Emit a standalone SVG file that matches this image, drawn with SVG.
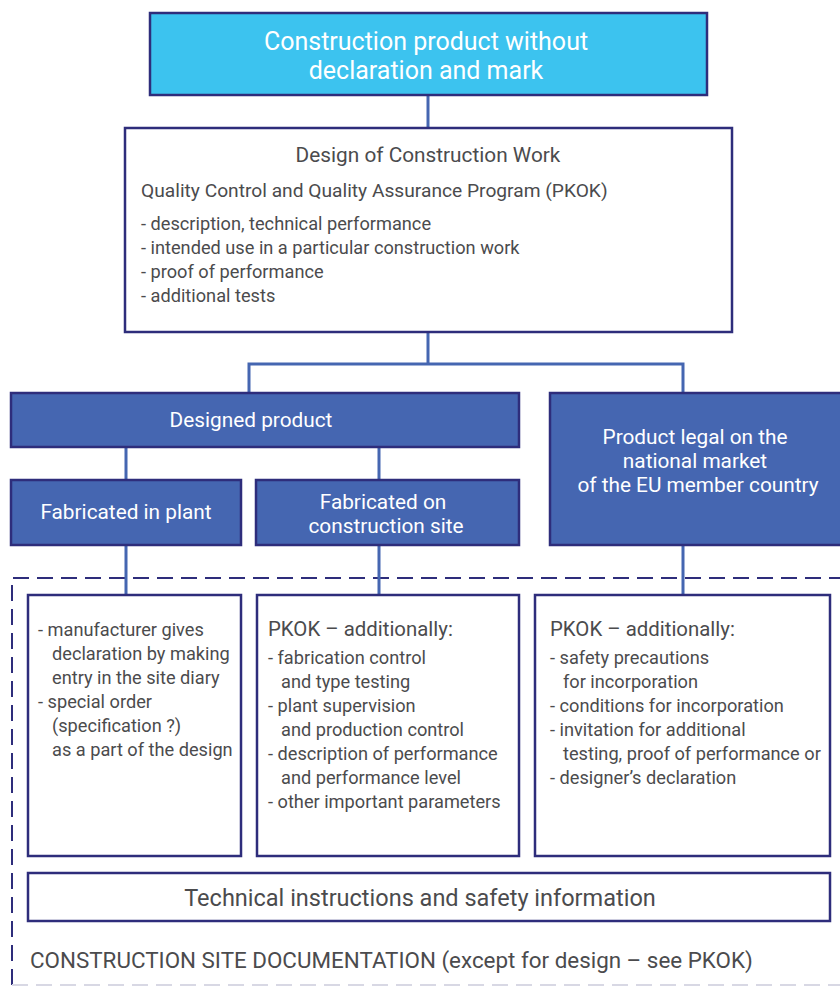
<svg xmlns="http://www.w3.org/2000/svg" width="840" height="986" viewBox="0 0 840 986">
<style>
text{font-family:Roboto,"Open Sans","Liberation Sans",sans-serif;fill:#4b4b4d}
.w{fill:#ffffff}
.c{text-anchor:middle}
.box{fill:#ffffff;stroke:#2e2d7b;stroke-width:2.5}
.blue{fill:#4566b1;stroke:#2e2d7b;stroke-width:2.5}
.cyan{fill:#3cc3ef;stroke:#2e2d7b;stroke-width:2.5}
.conn{fill:none;stroke:#4566b1;stroke-width:3}
.b{font-size:18.2px}
.h{font-size:20.8px}
.k{font-size:20.4px}
</style>
<g id="documentation-area">
<path d="M12 985 V578 H840" fill="none" stroke="#2e2d7b" stroke-width="2" stroke-dasharray="16 8"/>
<path d="M12 985 H840" fill="none" stroke="#d8d8e4" stroke-width="2" stroke-dasharray="16 8"/>
<text x="30" y="968" style="font-size:22.4px">CONSTRUCTION SITE DOCUMENTATION (except for design – see PKOK)</text>
</g>
<g id="connectors">
<path class="conn" d="M428 95 V128"/>
<path class="conn" d="M428 332 V364 M249 393 V364 H683 V393"/>
<path class="conn" d="M126 447 V480 M379 447 V480"/>
<path class="conn" d="M126 545 V595 M379 545 V595 M683 545 V595"/>
</g>
<g id="top">
<rect class="cyan" x="150" y="13" width="557" height="82"/>
<text class="w c" x="426" y="50" style="font-size:25px">Construction product without</text>
<text class="w c" x="426" y="79" style="font-size:25px">declaration and mark</text>
</g>
<g id="design">
<rect class="box" x="125" y="128" width="607" height="204"/>
<text class="c h" x="428" y="162">Design of Construction Work</text>
<text x="141" y="197" style="font-size:19.2px">Quality Control and Quality Assurance Program (PKOK)</text>
<text class="b" x="141" y="230">- description, technical performance</text>
<text class="b" x="141" y="254">- intended use in a particular construction work</text>
<text class="b" x="141" y="278">- proof of performance</text>
<text class="b" x="141" y="302">- additional tests</text>
</g>
<g id="designed-product">
<rect class="blue" x="11" y="393" width="508" height="54"/>
<text class="w c h" x="251" y="427">Designed product</text>
</g>
<g id="legal-product">
<rect class="blue" x="550" y="393" width="295" height="152"/>
<text class="w c h" x="695" y="444">Product legal on the</text>
<text class="w c h" x="695" y="468">national market</text>
<text class="w c h" x="698" y="492">of the EU member country</text>
</g>
<g id="plant">
<rect class="blue" x="11" y="480" width="230" height="65"/>
<text class="w c h" x="126" y="519">Fabricated in plant</text>
</g>
<g id="site">
<rect class="blue" x="256" y="480" width="263" height="65"/>
<text class="w c h" x="383" y="509">Fabricated on</text>
<text class="w c h" x="386" y="533">construction site</text>
</g>
<g id="plant-details">
<rect class="box" x="28" y="595" width="213" height="261"/>
<text class="b" x="38" y="636">- manufacturer gives</text>
<text class="b" x="52" y="660">declaration by making</text>
<text class="b" x="52" y="684">entry in the site diary</text>
<text class="b" x="38" y="708">- special order</text>
<text class="b" x="52" y="732">(specification ?)</text>
<text class="b" x="52" y="756">as a part of the design</text>
</g>
<g id="site-details">
<rect class="box" x="257" y="595" width="262" height="261"/>
<text class="k" x="268" y="636">PKOK – additionally:</text>
<text class="b" x="268" y="664">- fabrication control</text>
<text class="b" x="281" y="688">and type testing</text>
<text class="b" x="268" y="712">- plant supervision</text>
<text class="b" x="281" y="736">and production control</text>
<text class="b" x="268" y="760">- description of performance</text>
<text class="b" x="281" y="784">and performance level</text>
<text class="b" x="268" y="808">- other important parameters</text>
</g>
<g id="legal-details">
<rect class="box" x="535" y="595" width="295" height="261"/>
<text class="k" x="550" y="636">PKOK – additionally:</text>
<text class="b" x="550" y="664">- safety precautions</text>
<text class="b" x="563" y="688">for incorporation</text>
<text class="b" x="550" y="712">- conditions for incorporation</text>
<text class="b" x="550" y="736">- invitation for additional</text>
<text class="b" x="563" y="760">testing, proof of performance or</text>
<text class="b" x="550" y="784">- designer’s declaration</text>
</g>
<g id="technical">
<rect class="box" x="28" y="873" width="802" height="48"/>
<text class="c" x="420" y="906" style="font-size:23.5px">Technical instructions and safety information</text>
</g>
</svg>
